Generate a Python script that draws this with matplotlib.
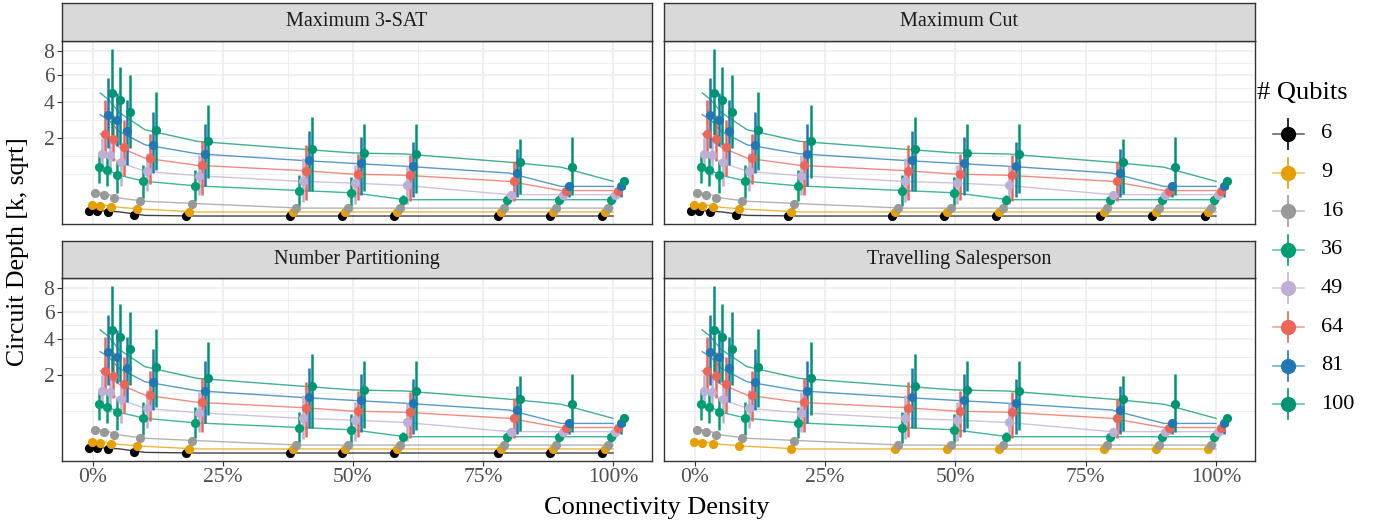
import numpy as np
import matplotlib.pyplot as plt
from matplotlib.lines import Line2D

plt.rcParams['font.family'] = ['Liberation Serif', 'DejaVu Serif']

# data (circuit depth in thousands)
panels = ['Maximum 3-SAT', 'Maximum Cut', 'Number Partitioning', 'Travelling Salesperson']
qubits = [6, 9, 16, 36, 49, 64, 81, 100]
colors = ['#000000', '#E69F00', '#999999', '#009E73', '#BFAED6', '#EB6558', '#1F78B4', '#009473']
density = [1.4, 3, 5, 10, 20, 40, 50, 60, 80, 90, 100]

mean_6 = [0.052, 0.048, 0.044, 0.023, 0.020, 0.020, 0.020, 0.020, 0.020, 0.020, 0.020]
lo_6 = [0.044, 0.040, 0.036, 0.018, 0.016, 0.016, 0.016, 0.016, 0.016, 0.016, 0.016]
hi_6 = [0.060, 0.056, 0.052, 0.029, 0.025, 0.025, 0.025, 0.025, 0.025, 0.025, 0.025]

mean_9 = [0.106, 0.096, 0.080, 0.063, 0.043, 0.043, 0.043, 0.043, 0.043, 0.043, 0.043]
lo_9 = [0.085, 0.078, 0.064, 0.050, 0.035, 0.035, 0.035, 0.035, 0.035, 0.035, 0.035]
hi_9 = [0.130, 0.118, 0.100, 0.078, 0.052, 0.052, 0.052, 0.052, 0.052, 0.052, 0.052]

mean_16 = [0.267, 0.240, 0.190, 0.146, 0.118, 0.073, 0.073, 0.073, 0.073, 0.073, 0.073]
lo_16 = [0.200, 0.180, 0.140, 0.110, 0.090, 0.060, 0.060, 0.060, 0.060, 0.060, 0.060]
hi_16 = [0.330, 0.300, 0.250, 0.190, 0.160, 0.088, 0.088, 0.088, 0.088, 0.088, 0.088]

mean_36 = [0.877, 0.790, 0.650, 0.500, 0.400, 0.310, 0.270, 0.166, 0.166, 0.166, 0.166]
lo_36 = [0.460, 0.390, 0.270, 0.190, 0.146, 0.090, 0.090, 0.106, 0.106, 0.106, 0.106]
hi_36 = [1.370, 1.250, 1.070, 0.960, 0.800, 0.670, 0.600, 0.240, 0.230, 0.230, 0.230]

mean_49 = [1.330, 1.300, 1.040, 0.760, 0.640, 0.500, 0.460, 0.410, 0.240, 0.240, 0.240]
lo_49 = [0.760, 0.670, 0.390, 0.300, 0.240, 0.133, 0.118, 0.118, 0.146, 0.146, 0.146]
hi_49 = [2.000, 1.920, 1.640, 1.370, 1.300, 1.180, 0.960, 0.910, 0.310, 0.310, 0.310]

mean_64 = [2.200, 1.970, 1.600, 1.180, 0.940, 0.780, 0.680, 0.650, 0.500, 0.310, 0.310]
lo_64 = [1.370, 1.070, 0.620, 0.430, 0.240, 0.166, 0.166, 0.153, 0.146, 0.210, 0.210]
hi_64 = [4.160, 3.200, 2.930, 2.190, 1.850, 1.700, 1.330, 1.300, 1.090, 0.390, 0.390]

mean_81 = [3.220, 2.930, 2.320, 1.700, 1.340, 1.100, 1.000, 0.910, 0.710, 0.390, 0.390]
lo_81 = [1.570, 1.640, 0.960, 0.710, 0.390, 0.300, 0.240, 0.210, 0.200, 0.200, 0.200]
hi_81 = [5.720, 4.600, 4.160, 3.380, 2.700, 2.350, 2.050, 1.820, 1.520, 0.460, 0.460]

mean_100 = [4.620, 4.160, 3.360, 2.400, 1.850, 1.520, 1.370, 1.330, 1.040, 0.880, 0.500]
lo_100 = [2.160, 1.700, 1.570, 0.800, 0.580, 0.300, 0.300, 0.270, 0.250, 0.240, 0.330]
hi_100 = [8.200, 6.600, 6.000, 4.700, 3.830, 3.070, 2.700, 2.700, 1.950, 2.050, 0.580]

means = [mean_6, mean_9, mean_16, mean_36, mean_49, mean_64, mean_81, mean_100]
lows = [lo_6, lo_9, lo_16, lo_36, lo_49, lo_64, lo_81, lo_100]
highs = [hi_6, hi_9, hi_16, hi_36, hi_49, hi_64, hi_81, hi_100]

# which qubit counts appear in each panel (TSP has no 6-qubit instances)
panel_qubits = [qubits, qubits, qubits, qubits[1:]]

W, H = 1392, 529
fig = plt.figure(figsize=(W / 100, H / 100), dpi=100)

def fx(px):
    return px / W

def fy(py):
    return 1 - py / H

# panel boxes in pixels: left, right, strip top, panel top, panel bottom
boxes = [(62, 652, 3, 41, 223.7), (664, 1255, 3, 41, 223.7),
         (62, 652, 241, 278, 460.7), (664, 1255, 241, 278, 460.7)]

fwd = lambda v: np.sqrt(np.clip(v, 0, None))
inv = lambda v: np.square(v)

major_y = [2, 4, 6, 8]
b = np.sqrt(major_y)
b = np.concatenate([[b[0] - (b[1] - b[0])], b])
minor_y = ((b[:-1] + b[1:]) / 2) ** 2
minor_y = np.concatenate([[b[0] ** 2], minor_y])

dodge = 5.0
n_slots = len(qubits)

for p, name in enumerate(panels):
    l, r, st, t, bt = boxes[p]
    ax = fig.add_axes([fx(l), fy(bt), fx(r - l), (bt - t) / H])
    ax.set_yscale('function', functions=(fwd, inv))
    ax.set_xlim(-5.95, 107.5)
    ax.set_ylim(0.016 ** 2, 2.997 ** 2)
    ax.set_yticks(major_y)
    ax.set_yticks(minor_y, minor=True)
    ax.set_xticks([0, 25, 50, 75, 100])
    ax.set_xticks([12.5, 37.5, 62.5, 87.5], minor=True)
    ax.grid(which='major', color='#EBEBEB', lw=1.1, zorder=0)
    ax.grid(which='minor', color='#EBEBEB', lw=0.6, zorder=0)
    ax.set_axisbelow(True)
    for s in ax.spines.values():
        s.set_color('#333333')
        s.set_linewidth(1.0)
    ax.tick_params(which='minor', length=0)
    ax.tick_params(which='major', length=3.5, width=0.8, color='#333333',
                   labelsize=15.5, labelcolor='#4D4D4D', pad=2)
    if p < 2:
        ax.tick_params(axis='x', length=0, labelbottom=False)
    else:
        ax.set_xticklabels(['0%', '25%', '50%', '75%', '100%'])
    if p % 2 == 1:
        ax.tick_params(axis='y', length=0, labelleft=False)
    else:
        ax.set_yticklabels([str(v) for v in major_y])

    # lines through the means
    for i, q in enumerate(qubits):
        if q not in panel_qubits[p]:
            continue
        ax.plot(density, means[i], color=colors[i], lw=1.0, alpha=0.75, zorder=2)
    # dodged point ranges
    for i, q in enumerate(qubits):
        if q not in panel_qubits[p]:
            continue
        off = (i - (n_slots - 1) / 2) * dodge / n_slots
        xs = np.array(density) + off
        ax.vlines(xs, lows[i], highs[i], color=colors[i], lw=1.8, zorder=3)
        ax.plot(xs, means[i], 'o', color=colors[i], ms=6.6, mec='none', zorder=4)

    # facet strip
    sax = fig.add_axes([fx(l), fy(t), fx(r - l), (t - st) / H])
    sax.set_xticks([])
    sax.set_yticks([])
    sax.set_facecolor('#D9D9D9')
    for s in sax.spines.values():
        s.set_color('#333333')
        s.set_linewidth(1.0)
    sax.text(0.5, 0.5, name, ha='center', va='center', fontsize=14.5, color='#1A1A1A')

fig.text(fx(657), fy(508), 'Connectivity Density', ha='center', va='center', fontsize=19)
fig.text(fx(18), fy(252), 'Circuit Depth [k, sqrt]', ha='center', va='center',
         rotation=90, fontsize=18.5)

# legend
fig.text(fx(1257), fy(93), '# Qubits', ha='left', va='center', fontsize=19)
for i, q in enumerate(qubits):
    yc = 134 + 38.6 * i
    fig.add_artist(Line2D([fx(1273), fx(1304)], [fy(yc), fy(yc)], color=colors[i],
                          lw=1.2, alpha=0.6, transform=fig.transFigure))
    fig.add_artist(Line2D([fx(1288), fx(1288)], [fy(yc - 15), fy(yc + 15)], color=colors[i],
                          lw=1.2, transform=fig.transFigure))
    fig.add_artist(Line2D([fx(1288)], [fy(yc)], marker='o', ms=11, color=colors[i],
                          mec='none', transform=fig.transFigure))
    fig.text(fx(1321), fy(yc), str(q), ha='left', va='center', fontsize=16)

fig.savefig('out.png', dpi=100)
